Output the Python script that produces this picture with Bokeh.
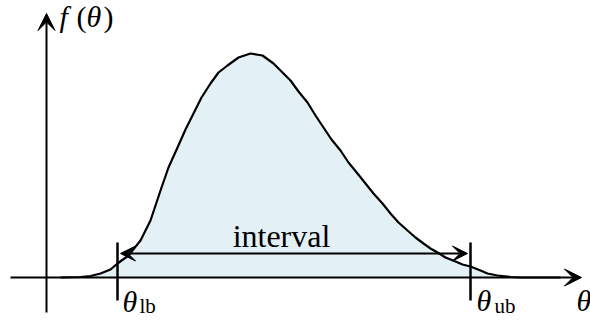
from bokeh.plotting import figure
from bokeh.models import Range1d, Arrow, VeeHead, ColumnDataSource
from bokeh.core.properties import value
from bokeh.embed import file_html
from bokeh.resources import INLINE

# Density curve f(theta), sampled along the horizontal axis
theta = [60, 80, 90, 100, 110, 117, 128, 140, 150, 160, 168, 177, 185, 193, 201,
         210, 218, 227, 238, 250, 262, 273, 282, 290, 298, 307, 315, 323, 331, 340,
         348, 357, 365, 373, 382, 390, 398, 407, 415, 423, 430, 437, 445, 455, 462,
         470, 480, 487, 497, 510, 520, 560]
density = [0, 0.5, 1.5, 4, 8, 14, 22, 37, 57, 87, 110, 130, 148, 164, 180,
           194, 205, 212, 220, 224, 222, 214, 205, 197, 186, 175, 162, 150, 138, 127,
           115, 104, 94, 84, 74, 64, 55, 47, 40, 34, 29, 25, 20, 16, 13,
           11, 7, 4, 2, 0.5, 0, 0]

# Interval bounds
theta_lb = 117
theta_ub = 470

INK = "black"
FILL = "#e3f1f6"
SERIF = "Liberation Serif"

p = figure(width=590, height=323, output_backend="svg", toolbar_location=None,
           x_range=Range1d(0, 590), y_range=Range1d(-46, 277),
           min_border=0, min_border_left=0, min_border_right=0,
           min_border_top=0, min_border_bottom=0)
p.axis.visible = False
p.grid.visible = False
p.outline_line_color = None
p.background_fill_color = "white"
p.border_fill_color = "white"

src = ColumnDataSource(dict(theta=theta, density=density))

# Shaded area under the density
p.varea(x="theta", y1=0, y2="density", source=src, fill_color=FILL)

# Coordinate axes with arrow tips
p.add_layout(Arrow(end=VeeHead(size=17, fill_color=INK, line_color=INK, line_width=1),
                   x_start=10, y_start=0, x_end=581, y_end=0,
                   line_color=INK, line_width=2))
p.add_layout(Arrow(end=VeeHead(size=17, fill_color=INK, line_color=INK, line_width=1),
                   x_start=46, y_start=-35, x_end=46, y_end=264,
                   line_color=INK, line_width=2))

# Density curve
p.line(x="theta", y="density", source=src, line_color=INK, line_width=2.2)

# Bound markers
p.segment(x0=[theta_lb, theta_ub], y0=[35, 35], x1=[theta_lb, theta_ub], y1=[-23, -23],
          line_color=INK, line_width=2.5)

# Interval arrow between bounds
p.add_layout(Arrow(start=VeeHead(size=15, fill_color=INK, line_color=INK, line_width=1),
                   end=VeeHead(size=15, fill_color=INK, line_color=INK, line_width=1),
                   x_start=theta_lb + 3, y_start=24, x_end=theta_ub - 3, y_end=24,
                   line_color=INK, line_width=2))

def label(x, y, txt, size, style="normal", align="left"):
    p.text(x=[x], y=[y], text=[txt], text_font=value(SERIF), text_font_size=size,
           text_font_style=style, text_align=align, text_baseline="alphabetic",
           text_color=INK)

# f(theta) on the vertical axis
label(59, 261, "f", "30px", "italic")
label(76, 261, "(", "30px")
label(86, 261, "θ", "30px", "italic")
label(103, 261, ")", "30px")

# interval caption
label(281, 42, "interval", "32px", align="center")

# bound labels
label(122, -24, "θ", "30px", "italic")
label(139, -28, "lb", "21px")
label(476, -23, "θ", "30px", "italic")
label(494, -28, "ub", "21px")

# theta on the horizontal axis
label(576, -23, "θ", "30px", "italic")

open("out.html", "w").write(file_html(p, INLINE))
